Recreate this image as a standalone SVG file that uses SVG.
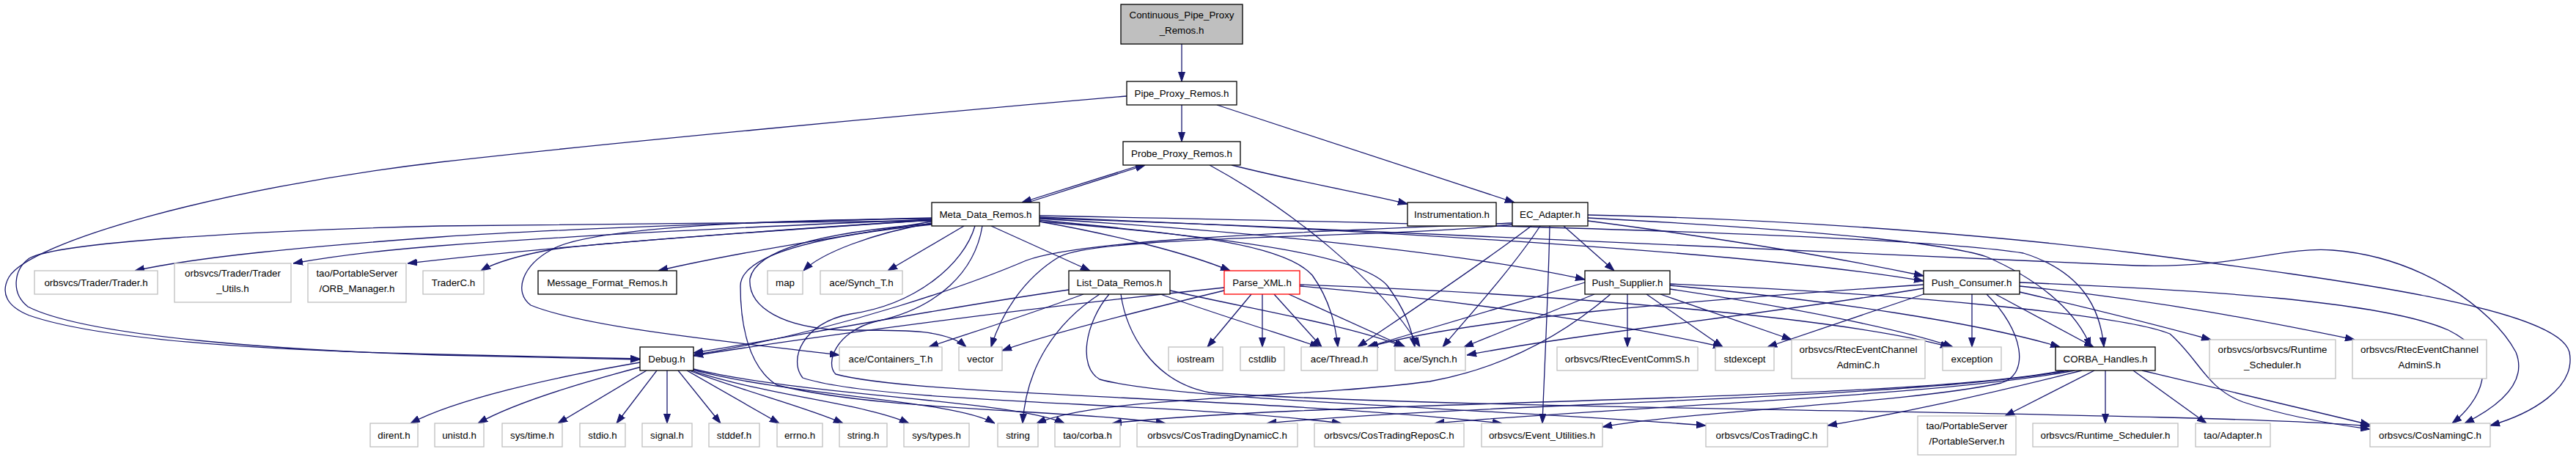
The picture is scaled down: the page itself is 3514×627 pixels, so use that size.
<svg xmlns="http://www.w3.org/2000/svg" width="3514" height="627" viewBox="0 0 3514 627">
<style>
.e{fill:none;stroke:#191970;stroke-width:1.3;marker-end:url(#ah)}
rect.b{fill:#fff;stroke:#000;stroke-width:1.3}
rect.g{fill:#fff;stroke:#bfbfbf;stroke-width:1.3}
rect.r{fill:#fff;stroke:#ff0000;stroke-width:1.3}
rect.f{fill:#bfbfbf;stroke:#000;stroke-width:1.3}
text{font-family:"Liberation Sans",Arial,sans-serif;font-size:13.33px;text-anchor:middle;fill:#000}
</style>
<defs>
<marker id="ah" markerWidth="13" markerHeight="10" refX="13" refY="5" orient="auto" markerUnits="userSpaceOnUse"><path d="M0,0.5 L13,5 L0,9.5 z" fill="#191970" stroke="#191970" stroke-width="1"/></marker>
</defs>
<rect x="0" y="0" width="3514" height="627" fill="#fff"/>
<g id="edges">
<path class="e" d="M1612,60 L1612,111"/>
<path class="e" d="M1612,143 L1612,193"/>
<path class="e" d="M1660,143 L2066,276"/>
<path class="e" d="M1537,131 C1200,160 820,196 600,221 C300,256 40,330 12,378 C0,400 10,418 40,430 C150,468 420,479 600,483 C720,486 800,488 873,489"/>
<path class="e" d="M1556,225 L1394,276"/>
<path class="e" d="M1402,276 L1562,225"/>
<path class="e" d="M1680,225 C1780,250 1860,263 1920,278"/>
<path class="e" d="M1650,225 C1760,285 1880,380 1937,473"/>
<path class="e" d="M1271,301 C1000,303 760,305 600,308 C350,314 80,330 40,352 C18,368 15,400 38,418 C120,460 400,478 600,484 C720,487 800,489 873,490"/>
<path class="e" d="M1271,297 C950,305 720,315 600,323 C420,336 270,350 184,369"/>
<path class="e" d="M1271,299 C950,312 720,326 600,335 C510,342 450,350 400,359"/>
<path class="e" d="M1271,300 C950,320 700,342 556,359"/>
<path class="e" d="M1271,300 C1000,318 800,333 753,340 C720,346 680,355 656,369"/>
<path class="e" d="M1271,302 C1150,322 1000,345 898,369"/>
<path class="e" d="M1271,304 C1190,318 1120,345 1096,369"/>
<path class="e" d="M1315,308 L1211,369"/>
<path class="e" d="M1271,298 C1000,300 800,313 753,340 C712,362 700,398 724,416 C800,447 1000,466 1145,484"/>
<path class="e" d="M1271,305 C1100,318 1030,345 1023,380 C1020,420 1070,447 1150,450 C1230,450 1290,448 1318,473"/>
<path class="e" d="M1271,306 C1080,325 1010,355 1010,390 C1010,440 1020,500 1060,525 C1200,560 1450,558 1590,577"/>
<path class="e" d="M1330,308 C1315,360 1250,415 1160,428 C1095,440 1075,490 1095,515 C1200,550 1600,548 1830,577"/>
<path class="e" d="M1340,308 C1330,370 1280,420 1195,438 C1140,452 1125,495 1140,510 C1250,540 1700,540 2049,577"/>
<path class="e" d="M1352,308 L1487,369"/>
<path class="e" d="M1418,302 C1520,320 1620,345 1678,369"/>
<path class="e" d="M1418,300 C1600,318 1750,330 1790,375 C1815,410 1822,445 1825,473"/>
<path class="e" d="M1418,302 C1700,325 1860,350 1893,390 C1915,420 1925,445 1930,473"/>
<path class="e" d="M1418,298 C1700,315 2000,345 2162,381"/>
<path class="e" d="M1418,296 C1900,315 2400,345 2624,383"/>
<path class="e" d="M1418,294 C2000,305 2600,320 2760,345 C2840,370 2865,420 2870,473"/>
<path class="e" d="M1418,297 C2000,318 2650,350 2914,362 C3050,366 3110,336 3182,341 C3300,350 3400,420 3432,480 C3450,525 3400,558 3362,577"/>
<path class="e" d="M2133,308 L2202,369"/>
<path class="e" d="M2089,308 C2000,375 1900,440 1852,473"/>
<path class="e" d="M2101,308 C2060,370 1995,440 1968,473"/>
<path class="e" d="M2114,308 C2112,400 2107,500 2104,577"/>
<path class="e" d="M2063,306 C1900,325 1500,320 1445,350 C1395,380 1365,430 1352,473"/>
<path class="e" d="M2063,304 C1800,316 1480,325 1400,355 C1330,385 1150,450 946,484"/>
<path class="e" d="M2166,301 C2350,325 2500,350 2624,376"/>
<path class="e" d="M2166,297 C2450,312 2650,330 2710,350 C2790,385 2835,430 2852,473"/>
<path class="e" d="M2166,293 C2500,300 2780,328 2914,345 C3200,382 3490,420 3505,480 C3515,530 3450,565 3397,580"/>
<path class="e" d="M1458,395 C1250,425 1050,465 946,481"/>
<path class="e" d="M1478,401 C1400,430 1320,455 1267,473"/>
<path class="e" d="M1500,401 C1440,440 1400,500 1395,577"/>
<path class="e" d="M1513,401 C1480,440 1470,500 1500,517 C1600,545 2000,555 2327,580"/>
<path class="e" d="M1529,401 C1536,450 1570,520 1650,535 C2000,560 3000,560 3233,581"/>
<path class="e" d="M1583,401 C1650,425 1730,450 1800,473"/>
<path class="e" d="M1596,396 C1700,420 1850,445 1915,473"/>
<path class="e" d="M1670,392 C1400,420 1100,460 946,485"/>
<path class="e" d="M1670,396 C1550,425 1430,455 1367,478"/>
<path class="e" d="M1707,401 L1647,473"/>
<path class="e" d="M1722,401 L1722,473"/>
<path class="e" d="M1738,401 L1803,473"/>
<path class="e" d="M1758,401 L1917,473"/>
<path class="e" d="M1773,390 C2000,410 2200,440 2350,473"/>
<path class="e" d="M1773,388 C2100,400 2500,430 2660,473"/>
<path class="e" d="M2162,385 L1865,473"/>
<path class="e" d="M2175,401 L1997,473"/>
<path class="e" d="M2197,401 C2140,450 2060,500 1950,520 C1750,545 1500,540 1414,577"/>
<path class="e" d="M2220,401 L2220,473"/>
<path class="e" d="M2246,401 L2350,473"/>
<path class="e" d="M2265,401 L2444,463"/>
<path class="e" d="M2278,394 C2450,420 2600,450 2664,473"/>
<path class="e" d="M2278,389 C2500,410 2700,440 2810,473"/>
<path class="e" d="M2278,387 C2600,400 2900,430 2960,455 C3000,490 3010,530 3060,548 C3120,568 3180,578 3233,585"/>
<path class="e" d="M2624,388 C2300,410 2000,435 1867,473"/>
<path class="e" d="M2624,393 C2400,430 2150,455 2001,484"/>
<path class="e" d="M2624,401 L2411,473"/>
<path class="e" d="M2690,401 L2690,473"/>
<path class="e" d="M2722,401 L2856,473"/>
<path class="e" d="M2755,398 C2850,420 2950,445 3016,463"/>
<path class="e" d="M2755,390 C2950,410 3100,440 3212,463"/>
<path class="e" d="M2755,385 C3000,395 3250,410 3340,450 C3420,490 3380,550 3345,577"/>
<path class="e" d="M2710,401 C2760,450 2770,510 2730,522 C2600,550 2300,560 2186,582"/>
<path class="e" d="M2857,505 L2735,567"/>
<path class="e" d="M2872,505 L2872,577"/>
<path class="e" d="M2910,505 L3010,577"/>
<path class="e" d="M2922,505 L3233,579"/>
<path class="e" d="M2840,505 C2700,540 2600,562 2493,580"/>
<path class="e" d="M2830,505 C2650,540 2200,555 1957,577"/>
<path class="e" d="M2822,505 C2600,545 2000,550 1728,577"/>
<path class="e" d="M2815,505 C2600,548 1800,545 1517,577"/>
<path class="e" d="M873,494 C750,515 620,545 560,577"/>
<path class="e" d="M875,500 C780,525 700,550 652,577"/>
<path class="e" d="M882,505 L761,577"/>
<path class="e" d="M896,505 L841,577"/>
<path class="e" d="M910,505 L910,577"/>
<path class="e" d="M925,505 L983,577"/>
<path class="e" d="M937,505 L1063,577"/>
<path class="e" d="M940,505 C1020,535 1100,555 1150,577"/>
<path class="e" d="M943,505 C1050,540 1180,550 1240,577"/>
<path class="e" d="M945,504 C1080,540 1300,545 1357,577"/>
<path class="e" d="M946,503 C1100,540 1380,545 1452,577"/>
</g>
<g id="n_cont"><rect class="f" x="1529" y="6" width="166" height="54"/><text x="1612" y="24.5">Continuous_Pipe_Proxy</text><text x="1612" y="45.5">_Remos.h</text></g>
<g id="n_pipe"><rect class="b" x="1537" y="111" width="150" height="32"/><text x="1612" y="131.5">Pipe_Proxy_Remos.h</text></g>
<g id="n_probe"><rect class="b" x="1532" y="193" width="160" height="32"/><text x="1612" y="213.5">Probe_Proxy_Remos.h</text></g>
<g id="n_meta"><rect class="b" x="1271" y="276" width="147" height="32"/><text x="1344.5" y="296.5">Meta_Data_Remos.h</text></g>
<g id="n_instr"><rect class="b" x="1920" y="276" width="121" height="32"/><text x="1980.5" y="296.5">Instrumentation.h</text></g>
<g id="n_ec"><rect class="b" x="2063" y="276" width="103" height="32"/><text x="2114.5" y="296.5">EC_Adapter.h</text></g>
<g id="n_trader"><rect class="g" x="47" y="369" width="168" height="32"/><text x="131" y="389.5">orbsvcs/Trader/Trader.h</text></g>
<g id="n_tutils"><rect class="g" x="238" y="359" width="159" height="53"/><text x="317.5" y="377">orbsvcs/Trader/Trader</text><text x="317.5" y="398">_Utils.h</text></g>
<g id="n_orbm"><rect class="g" x="420" y="359" width="134" height="53"/><text x="487" y="377">tao/PortableServer</text><text x="487" y="398">/ORB_Manager.h</text></g>
<g id="n_traderc"><rect class="g" x="577" y="369" width="83" height="32"/><text x="618.5" y="389.5">TraderC.h</text></g>
<g id="n_msg"><rect class="b" x="734" y="369" width="189" height="32"/><text x="828.5" y="389.5">Message_Format_Remos.h</text></g>
<g id="n_map"><rect class="g" x="1047" y="369" width="48" height="32"/><text x="1071" y="389.5">map</text></g>
<g id="n_syncht"><rect class="g" x="1119" y="369" width="112" height="32"/><text x="1175" y="389.5">ace/Synch_T.h</text></g>
<g id="n_list"><rect class="b" x="1458" y="369" width="138" height="32"/><text x="1527" y="389.5">List_Data_Remos.h</text></g>
<g id="n_parse"><rect class="r" x="1670" y="369" width="103" height="32"/><text x="1721.5" y="389.5">Parse_XML.h</text></g>
<g id="n_pushs"><rect class="b" x="2162" y="369" width="116" height="32"/><text x="2220" y="389.5">Push_Supplier.h</text></g>
<g id="n_pushc"><rect class="b" x="2624" y="369" width="131" height="32"/><text x="2689.5" y="389.5">Push_Consumer.h</text></g>
<g id="n_debug"><rect class="b" x="873" y="473" width="73" height="32"/><text x="909.5" y="493.5">Debug.h</text></g>
<g id="n_containers"><rect class="g" x="1145" y="473" width="140" height="32"/><text x="1215" y="493.5">ace/Containers_T.h</text></g>
<g id="n_vector"><rect class="g" x="1308" y="473" width="59" height="32"/><text x="1337.5" y="493.5">vector</text></g>
<g id="n_iostream"><rect class="g" x="1594" y="473" width="74" height="32"/><text x="1631" y="493.5">iostream</text></g>
<g id="n_cstdlib"><rect class="g" x="1692" y="473" width="60" height="32"/><text x="1722" y="493.5">cstdlib</text></g>
<g id="n_thread"><rect class="g" x="1775" y="473" width="104" height="32"/><text x="1827" y="493.5">ace/Thread.h</text></g>
<g id="n_synch"><rect class="g" x="1903" y="473" width="96" height="32"/><text x="1951" y="493.5">ace/Synch.h</text></g>
<g id="n_rtcs"><rect class="g" x="2124" y="473" width="192" height="32"/><text x="2220" y="493.5">orbsvcs/RtecEventCommS.h</text></g>
<g id="n_stdexcept"><rect class="g" x="2340" y="473" width="80" height="32"/><text x="2380" y="493.5">stdexcept</text></g>
<g id="n_rtac"><rect class="g" x="2444" y="463" width="182" height="53"/><text x="2535" y="481">orbsvcs/RtecEventChannel</text><text x="2535" y="502">AdminC.h</text></g>
<g id="n_exception"><rect class="g" x="2650" y="473" width="80" height="32"/><text x="2690" y="493.5">exception</text></g>
<g id="n_corbah"><rect class="b" x="2804" y="473" width="136" height="32"/><text x="2872" y="493.5">CORBA_Handles.h</text></g>
<g id="n_oors"><rect class="g" x="3014" y="463" width="172" height="53"/><text x="3100" y="481">orbsvcs/orbsvcs/Runtime</text><text x="3100" y="502">_Scheduler.h</text></g>
<g id="n_rtas"><rect class="g" x="3209" y="463" width="183" height="53"/><text x="3300.5" y="481">orbsvcs/RtecEventChannel</text><text x="3300.5" y="502">AdminS.h</text></g>
<g id="n_dirent"><rect class="g" x="505" y="577" width="65" height="32"/><text x="537.5" y="597.5">dirent.h</text></g>
<g id="n_unistd"><rect class="g" x="593" y="577" width="67" height="32"/><text x="626.5" y="597.5">unistd.h</text></g>
<g id="n_systime"><rect class="g" x="685" y="577" width="82" height="32"/><text x="726" y="597.5">sys/time.h</text></g>
<g id="n_stdio"><rect class="g" x="791" y="577" width="62" height="32"/><text x="822" y="597.5">stdio.h</text></g>
<g id="n_signal"><rect class="g" x="876" y="577" width="68" height="32"/><text x="910" y="597.5">signal.h</text></g>
<g id="n_stddef"><rect class="g" x="967" y="577" width="69" height="32"/><text x="1001.5" y="597.5">stddef.h</text></g>
<g id="n_errno"><rect class="g" x="1060" y="577" width="62" height="32"/><text x="1091" y="597.5">errno.h</text></g>
<g id="n_stringh"><rect class="g" x="1145" y="577" width="65" height="32"/><text x="1177.5" y="597.5">string.h</text></g>
<g id="n_systypes"><rect class="g" x="1233" y="577" width="89" height="32"/><text x="1277.5" y="597.5">sys/types.h</text></g>
<g id="n_string"><rect class="g" x="1361" y="577" width="55" height="32"/><text x="1388.5" y="597.5">string</text></g>
<g id="n_taocorba"><rect class="g" x="1439" y="577" width="89" height="32"/><text x="1483.5" y="597.5">tao/corba.h</text></g>
<g id="n_ctdyn"><rect class="g" x="1551" y="577" width="219" height="32"/><text x="1660.5" y="597.5">orbsvcs/CosTradingDynamicC.h</text></g>
<g id="n_ctrep"><rect class="g" x="1793" y="577" width="204" height="32"/><text x="1895" y="597.5">orbsvcs/CosTradingReposC.h</text></g>
<g id="n_evu"><rect class="g" x="2021" y="577" width="165" height="32"/><text x="2103.5" y="597.5">orbsvcs/Event_Utilities.h</text></g>
<g id="n_ctc"><rect class="g" x="2327" y="577" width="166" height="32"/><text x="2410" y="597.5">orbsvcs/CosTradingC.h</text></g>
<g id="n_ps"><rect class="g" x="2616" y="567" width="134" height="53"/><text x="2683" y="585">tao/PortableServer</text><text x="2683" y="606">/PortableServer.h</text></g>
<g id="n_rs"><rect class="g" x="2773" y="577" width="198" height="32"/><text x="2872" y="597.5">orbsvcs/Runtime_Scheduler.h</text></g>
<g id="n_adapter"><rect class="g" x="2995" y="577" width="102" height="32"/><text x="3046" y="597.5">tao/Adapter.h</text></g>
<g id="n_cnc"><rect class="g" x="3233" y="577" width="164" height="32"/><text x="3315" y="597.5">orbsvcs/CosNamingC.h</text></g>
</svg>
